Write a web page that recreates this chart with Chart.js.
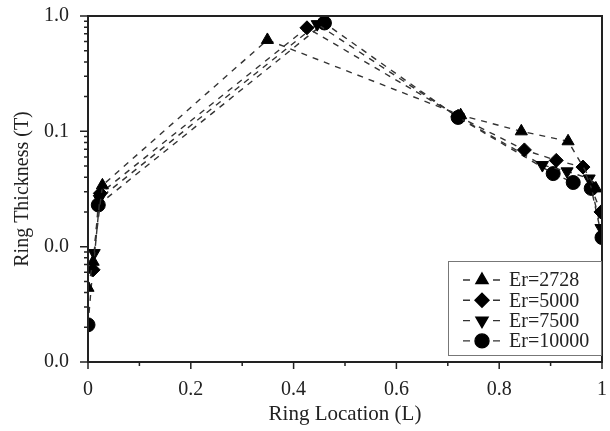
<!DOCTYPE html>
<html>
<head>
<meta charset="utf-8">
<script src="https://cdn.jsdelivr.net/npm/chart.js@4.4.1/dist/chart.umd.min.js"></script>
<style>
    html, body { margin: 0; padding: 0; background: #fff; }
    canvas { display: block; }
</style>
</head>
<body>
<canvas id="canvasGrafica" width="610" height="431"></canvas>
<script>
// datos
var seriesNames = ["Er=2728", "Er=5000", "Er=7500", "Er=10000"];
var er2728X = [0.0, 0.010, 0.028, 0.349, 0.725, 0.843, 0.934, 0.988];
var er2728Y = [0.0044, 0.0074, 0.034, 0.62, 0.138, 0.100, 0.082, 0.032];
var er5000X = [0.010, 0.024, 0.426, 0.720, 0.849, 0.911, 0.963, 0.998];
var er5000Y = [0.0063, 0.029, 0.79, 0.135, 0.069, 0.056, 0.049, 0.020];
var er7500X = [0.012, 0.022, 0.446, 0.720, 0.884, 0.932, 0.975, 0.998];
var er7500Y = [0.0088, 0.026, 0.85, 0.133, 0.051, 0.045, 0.039, 0.0145];
var er10000X = [0.0, 0.020, 0.460, 0.720, 0.905, 0.944, 0.979, 1.0];
var er10000Y = [0.0021, 0.023, 0.87, 0.132, 0.043, 0.036, 0.032, 0.012];
var xTicks = [0, 0.2, 0.4, 0.6, 0.8, 1];
var yTicks = [0.001, 0.01, 0.1, 1];

var fuente = "'Liberation Serif', 'DejaVu Serif', serif";
var estilos = [
    { pointStyle: "triangle", rotation: 0 },
    { pointStyle: "rectRot", rotation: 0 },
    { pointStyle: "triangle", rotation: 180 },
    { pointStyle: "circle", rotation: 0 }
];

function puntos(xs, ys) {
    var arr = [];
    for (let i = 0; i < xs.length; i++) {
        arr.push({ x: xs[i], y: ys[i] });
    }
    return arr;
}

var allData = [puntos(er2728X, er2728Y), puntos(er5000X, er5000Y), puntos(er7500X, er7500Y), puntos(er10000X, er10000Y)];
var datasets = [];
for (let i = 0; i < seriesNames.length; i++) {
    datasets.push({
        label: seriesNames[i],
        data: allData[i],
        showLine: true,
        borderColor: "#333",
        borderWidth: 1.4,
        borderDash: [6, 6],
        backgroundColor: "#000",
        pointBackgroundColor: "#000",
        pointBorderColor: "#000",
        pointBorderWidth: 1,
        pointStyle: estilos[i].pointStyle,
        rotation: estilos[i].rotation,
        pointRadius: 7,
        pointHoverRadius: 7
    });
}

// marco, marcas de los ejes y leyenda
var marcoPlugin = {
    id: "marco",
    afterDraw: function (chart) {
        var ctx = chart.ctx;
        var a = chart.chartArea;
        var sx = chart.scales.x;
        var sy = chart.scales.y;
        ctx.save();
        ctx.strokeStyle = "#222";
        ctx.lineWidth = 2;
        ctx.strokeRect(a.left, a.top, a.right - a.left, a.bottom - a.top);

        ctx.lineWidth = 1.5;
        ctx.beginPath();
        for (let k = 0; k <= 10; k++) {
            var px = sx.getPixelForValue(k / 10);
            var len = k % 2 == 0 ? 7 : 4;
            ctx.moveTo(px, a.bottom);
            ctx.lineTo(px, a.bottom + len);
        }
        for (let e = -3; e <= 0; e++) {
            for (let m = 1; m <= 9; m++) {
                if (e == 0 && m > 1) break;
                var v = m * Math.pow(10, e);
                var py = sy.getPixelForValue(v);
                var l = m == 1 ? 8 : 4;
                ctx.moveTo(a.left, py);
                ctx.lineTo(a.left - l, py);
            }
        }
        ctx.stroke();

        // leyenda
        var bx = 448, by = 261, bw = 153, bh = 94;
        ctx.fillStyle = "#fff";
        ctx.fillRect(bx, by, bw, bh);
        ctx.strokeStyle = "#777";
        ctx.lineWidth = 1;
        ctx.strokeRect(bx + 0.5, by + 0.5, bw, bh);
        ctx.font = "20px " + fuente;
        ctx.textBaseline = "middle";
        ctx.textAlign = "left";
        for (let i = 0; i < seriesNames.length; i++) {
            var yy = by + 19 + i * 20.3;
            ctx.strokeStyle = "#333";
            ctx.lineWidth = 1.4;
            ctx.beginPath();
            ctx.moveTo(463, yy); ctx.lineTo(470, yy);
            ctx.moveTo(493, yy); ctx.lineTo(500, yy);
            ctx.stroke();
            ctx.fillStyle = "#000";
            ctx.strokeStyle = "#000";
            Chart.helpers.drawPoint(ctx, {
                pointStyle: estilos[i].pointStyle,
                rotation: estilos[i].rotation,
                radius: 7,
                borderWidth: 1
            }, 482, yy);
            ctx.fillStyle = "#222";
            ctx.fillText(seriesNames[i], 509, yy + 1);
        }
        ctx.restore();
    }
};

var miGrafica = new Chart(document.getElementById("canvasGrafica"), {
    type: "scatter",
    data: { datasets: datasets },
    plugins: [marcoPlugin],
    options: {
        responsive: false,
        animation: false,
        layout: { padding: { left: 0, right: 6, top: 16, bottom: 0 } },
        plugins: {
            legend: { display: false },
            tooltip: { enabled: false }
        },
        scales: {
            x: {
                type: "linear",
                min: 0,
                max: 1,
                afterFit: function (scale) {
                    scale.height = 69;
                    scale.paddingLeft = 0;
                    scale.paddingRight = 0;
                },
                afterBuildTicks: function (scale) {
                    scale.ticks = xTicks.map(function (v) { return { value: v }; });
                },
                grid: { display: false },
                border: { display: false },
                ticks: {
                    color: "#222",
                    font: { family: fuente, size: 20 },
                    padding: 8,
                    maxRotation: 0,
                    autoSkip: false,
                    callback: function (v) { return String(Math.round(v * 10) / 10); }
                },
                title: {
                    display: true,
                    text: "Ring Location (L)",
                    color: "#222",
                    font: { family: fuente, size: 21 },
                    padding: { top: 0 }
                }
            },
            y: {
                type: "logarithmic",
                min: 0.001,
                max: 1,
                afterFit: function (scale) {
                    scale.width = 88;
                    scale.paddingTop = 0;
                    scale.paddingBottom = 0;
                },
                afterBuildTicks: function (scale) {
                    scale.ticks = yTicks.map(function (v) { return { value: v }; });
                },
                grid: { display: false },
                border: { display: false },
                ticks: {
                    color: "#222",
                    font: { family: fuente, size: 20 },
                    padding: 11,
                    autoSkip: false,
                    callback: function (v) { return Number(v).toFixed(1); }
                },
                title: {
                    display: true,
                    text: "Ring Thickness (T)",
                    color: "#222",
                    font: { family: fuente, size: 20 },
                    padding: { top: 11, bottom: 0 }
                }
            }
        }
    }
});
</script>
</body>
</html>
